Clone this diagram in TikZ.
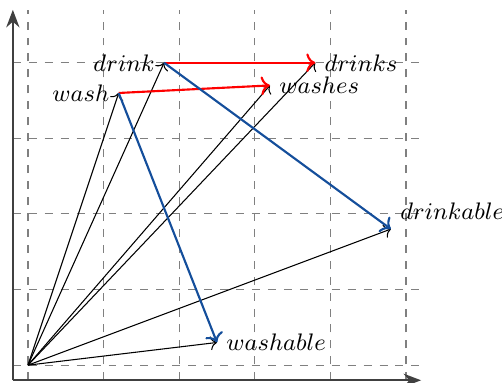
\documentclass[tikz,border=0pt]{standalone}
\usepackage{amsmath}
\usepackage{tikz}
\usetikzlibrary{arrows.meta,positioning}

\definecolor{vecblue}{RGB}{20,78,155}

\begin{document}
\begin{tikzpicture}[font=\small, >=To, line width=.4pt]
    \useasboundingbox (-0.37,-0.225) rectangle (6.27,4.83);
    \draw[dashed,gray] (-0.2,-0.2) grid (5.2,4.7);
    % axes
    \coordinate (corner) at (-0.2,-0.2);
    \coordinate (xend) at (5.2,-0.2);
    \coordinate (yend) at (-0.2,4.7);
    \draw[-{Stealth},black!75,line width=.8pt] (corner) -- (xend);
    \draw[-{Stealth},black!75,line width=.8pt] (corner) -- (yend);
    % word vectors
    \coordinate (O) at (0,0);
    \coordinate (drink) at (1.8,4);
    \coordinate (wash) at (1.2,3.6);
    \coordinate (drinks) at (3.8,4);
    \coordinate (washes) at (3.2,3.7);
    \coordinate (drinkable) at (4.8,1.8);
    \coordinate (washable) at (2.5,0.3);
    \node[left=0pt of drink] (drinklbl) {$drink$};
    \node[left=0pt of wash] (washlbl) {$wash$};
    \node[right=0pt of drinks] (drinkslbl) {$drinks$};
    \node[right=0pt of washes] (washeslbl) {$washes$};
    \node[above right=0pt of drinkable] (drinkablelbl) {$drinkable$};
    \node[right=0pt of washable] (washablelbl) {$washable$};
    \foreach \w in {drink,wash,drinks,washes,drinkable,washable}
      \draw[->] (O) -- (\w);
    \draw[->,red,line width=.8pt] (drink) -- (drinks);
    \draw[->,red,line width=.8pt] (wash) -- (washes);
    \draw[->,vecblue,line width=.8pt] (drink) -- (drinkable);
    \draw[->,vecblue,line width=.8pt] (wash) -- (washable);
\end{tikzpicture}
\end{document}
